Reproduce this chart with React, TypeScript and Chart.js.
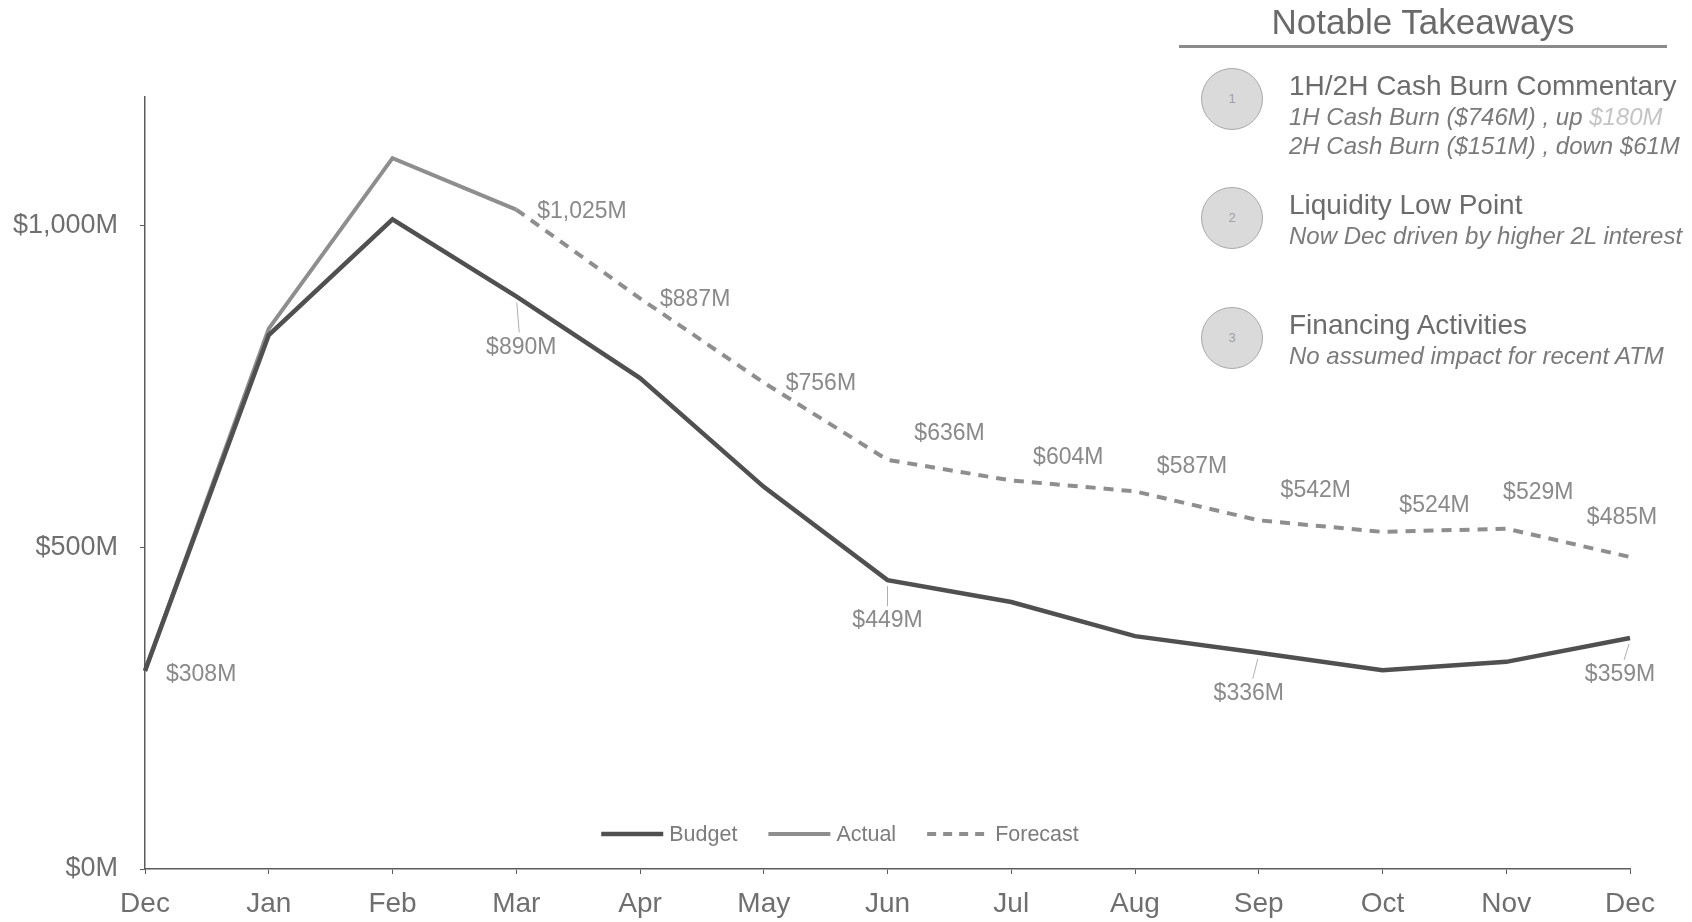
import React, { useEffect, useRef } from "react";
import { Chart, registerables } from "chart.js";

Chart.register(...registerables);

const FONT = '"Liberation Sans", Arial, Helvetica, sans-serif';

// ---- data ----
const months = ["Dec", "Jan", "Feb", "Mar", "Apr", "May", "Jun", "Jul", "Aug", "Sep", "Oct", "Nov", "Dec"];
const budget = [308, 830, 1010, 890, 763, 594, 449, 415, 362, 336, 309, 322, 359];
const actual = [308, 840, 1105, 1025, null, null, null, null, null, null, null, null, null];
const forecast = [null, null, null, 1025, 887, 756, 636, 604, 587, 542, 524, 529, 485];
const yTicks = [0, 500, 1000];
const yMax = 1200;

// which points carry a value label
const budgetLabelIdx = [0, 3, 6, 9, 12];
const forecastLabelIdx = [3, 4, 5, 6, 7, 8, 9, 10, 11, 12];

// ---- label placement (pixel offsets from the point) ----
type Place = { dx: number; dy: number; align: CanvasTextAlign; leader?: boolean };
const budgetPlace: Place[] = [
  { dx: 21, dy: 4, align: "left" },
  { dx: 5, dy: 51, align: "center", leader: true },
  { dx: 0, dy: 41, align: "center", leader: true },
  { dx: -10, dy: 41, align: "center", leader: true },
  { dx: -10, dy: 37, align: "center", leader: true },
];
const forecastPlace: Place[] = [
  { dx: 21, dy: 2, align: "left" },
  { dx: 20, dy: 1, align: "left" },
  { dx: 22, dy: 1, align: "left" },
  { dx: 62, dy: -26, align: "center" },
  { dx: 57, dy: -23, align: "center" },
  { dx: 57, dy: -25, align: "center" },
  { dx: 57, dy: -30, align: "center" },
  { dx: 52, dy: -26, align: "center" },
  { dx: 32, dy: -36, align: "center" },
  { dx: -8, dy: -39, align: "center" },
];

const fmtMoney = (v: number) => `$${v.toLocaleString("en-US")}M`;

const TEXT = "#6f6f6f";
const LABEL = "#8a8a8a";
const AXIS = "#5c5c5c";

const valueLabels = {
  id: "valueLabels",
  afterDatasetsDraw(chart: any) {
    const ctx = chart.ctx as CanvasRenderingContext2D;
    ctx.save();
    ctx.font = `23px ${FONT}`;
    ctx.textBaseline = "middle";
    const draw = (dsIndex: number, idxs: number[], places: Place[]) => {
      const meta = chart.getDatasetMeta(dsIndex);
      const data = chart.data.datasets[dsIndex].data;
      idxs.forEach((i, k) => {
        const pt = meta.data[i];
        const v = data[i];
        if (!pt || v == null) return;
        const p = places[k];
        const lx = pt.x + p.dx;
        const ly = pt.y + p.dy;
        if (p.leader) {
          ctx.strokeStyle = "#b0b0b0";
          ctx.lineWidth = 1;
          ctx.beginPath();
          ctx.moveTo(pt.x + p.dx * 0.1, pt.y + 6);
          ctx.lineTo(pt.x + p.dx * 0.6, ly - 15);
          ctx.stroke();
        }
        ctx.fillStyle = LABEL;
        ctx.textAlign = p.align;
        ctx.fillText(fmtMoney(v as number), lx, ly);
      });
    };
    draw(0, budgetLabelIdx, budgetPlace);
    draw(2, forecastLabelIdx, forecastPlace);
    ctx.restore();
  },
};

// legend drawn inside the plot, just above the category axis
const insideLegend = {
  id: "insideLegend",
  afterDraw(chart: any) {
    const ctx = chart.ctx as CanvasRenderingContext2D;
    const sample = 62;
    const gap = 6;
    const itemGap = 31;
    ctx.save();
    ctx.font = `21.5px ${FONT}`;
    ctx.textBaseline = "middle";
    ctx.textAlign = "left";
    const items = chart.data.datasets.map((d: any) => ({
      text: d.label,
      color: d.borderColor,
      width: d.borderWidth,
      dash: d.borderDash || [],
    }));
    const total = items.reduce(
      (s: number, it: any) => s + sample + gap + ctx.measureText(it.text).width,
      0
    ) + itemGap * (items.length - 1);
    let x = 840 - total / 2;
    const y = chart.chartArea.bottom - 35;
    items.forEach((it: any) => {
      ctx.strokeStyle = it.color;
      ctx.lineWidth = it.width;
      ctx.setLineDash(it.dash.length ? [9, 7] : []);
      ctx.beginPath();
      ctx.moveTo(x, y);
      ctx.lineTo(x + sample, y);
      ctx.stroke();
      ctx.setLineDash([]);
      x += sample + gap;
      ctx.fillStyle = "#7c7c7c";
      ctx.fillText(it.text, x, y + 1);
      x += ctx.measureText(it.text).width + itemGap;
    });
    ctx.restore();
  },
};

function CashChart() {
  const ref = useRef<HTMLCanvasElement | null>(null);
  useEffect(() => {
    if (!ref.current) return;
    const chart = new Chart(ref.current, {
      type: "line",
      data: {
        labels: months,
        datasets: [
          {
            label: "Budget",
            data: budget,
            borderColor: "#505050",
            borderWidth: 4.5,
            pointRadius: 0,
            tension: 0,
            order: 1,
          },
          {
            label: "Actual",
            data: actual,
            borderColor: "#8e8e8e",
            borderWidth: 4,
            pointRadius: 0,
            tension: 0,
            order: 2,
          },
          {
            label: "Forecast",
            data: forecast,
            borderColor: "#8e8e8e",
            borderWidth: 4,
            borderDash: [10, 8],
            pointRadius: 0,
            tension: 0,
            order: 3,
          },
        ],
      },
      options: {
        animation: false,
        responsive: true,
        maintainAspectRatio: false,
        layout: { padding: { top: 97, right: 62, bottom: 0, left: 0 } },
        plugins: {
          legend: { display: false },
          tooltip: { enabled: false },
        },
        scales: {
          x: {
            afterFit: (s: any) => {
              s.height = 53;
            },
            ticks: {
              font: { size: 28, family: FONT },
              color: TEXT,
              padding: 13,
              maxRotation: 0,
              autoSkip: false,
            },
            grid: { display: true, drawOnChartArea: false, drawTicks: true, tickLength: 5, color: AXIS },
            border: { display: true, color: AXIS, width: 1.5 },
          },
          y: {
            min: 0,
            max: yMax,
            afterBuildTicks: (s: any) => {
              s.ticks = yTicks.map((v) => ({ value: v }));
            },
            afterFit: (s: any) => {
              s.width = 145;
            },
            ticks: {
              font: { size: 27, family: FONT },
              color: TEXT,
              padding: 22,
              callback: (v: any) => fmtMoney(Number(v)),
            },
            grid: { display: true, drawOnChartArea: false, drawTicks: true, tickLength: 5, color: AXIS },
            border: { display: true, color: AXIS, width: 1.5 },
          },
        },
      },
      plugins: [valueLabels, insideLegend],
    });
    return () => chart.destroy();
  }, []);
  return <canvas ref={ref} />;
}

type Takeaway = { n: string; head: string; lines: React.ReactNode[]; cy: number };

const takeaways: Takeaway[] = [
  {
    n: "1",
    head: "1H/2H Cash Burn Commentary",
    lines: [
      <>
        1H Cash Burn ($746M) , up <span style={{ color: "#c4c4c4" }}>$180M</span>
      </>,
      "2H Cash Burn ($151M) , down $61M",
    ],
    cy: 99,
  },
  {
    n: "2",
    head: "Liquidity Low Point",
    lines: ["Now Dec driven by higher 2L interest"],
    cy: 218,
  },
  {
    n: "3",
    head: "Financing Activities",
    lines: ["No assumed impact for recent ATM"],
    cy: 338,
  },
];

function Line({ top, size, italic, color, children }: any) {
  const lh = Math.round(size * 1.2);
  return (
    <div
      style={{
        position: "absolute",
        left: 1289,
        top: top - lh / 2,
        lineHeight: `${lh}px`,
        fontSize: size,
        fontStyle: italic ? "italic" : "normal",
        color,
        whiteSpace: "nowrap",
      }}
    >
      {children}
    </div>
  );
}

function Takeaways() {
  return (
    <>
      <div
        style={{
          position: "absolute",
          left: 1179,
          width: 488,
          top: 2,
          textAlign: "center",
          fontSize: 35,
          lineHeight: "40px",
          color: "#6a6a6a",
          whiteSpace: "nowrap",
        }}
      >
        Notable Takeaways
      </div>
      <div
        style={{
          position: "absolute",
          left: 1179,
          top: 45,
          width: 488,
          height: 2.5,
          background: "#8a8a8a",
        }}
      />
      {takeaways.map((t) => (
        <React.Fragment key={t.n}>
          <div
            style={{
              position: "absolute",
              left: 1232 - 31,
              top: t.cy - 31,
              width: 62,
              height: 62,
              borderRadius: "50%",
              boxSizing: "border-box",
              border: "1.5px solid #a8a8a8",
              background: "#dadada",
              color: "#a0a0a0",
              fontSize: 13,
              lineHeight: "59px",
              textAlign: "center",
            }}
          >
            {t.n}
          </div>
          <Line top={t.cy - 13} size={28} color="#6c6c6c">
            {t.head}
          </Line>
          {t.lines.map((l, i) => (
            <Line key={i} top={t.cy + 17 + i * 29} size={24} italic color="#7a7a7a">
              {l}
            </Line>
          ))}
        </React.Fragment>
      ))}
    </>
  );
}

export default function App() {
  return (
    <div
      style={{
        position: "absolute",
        left: 0,
        top: 0,
        width: 1692,
        height: 922,
        overflow: "hidden",
        background: "#ffffff",
        fontFamily: FONT,
      }}
    >
      <div style={{ position: "absolute", left: 0, top: 0, width: 1692, height: 922 }}>
        <CashChart />
      </div>
      <Takeaways />
    </div>
  );
}
